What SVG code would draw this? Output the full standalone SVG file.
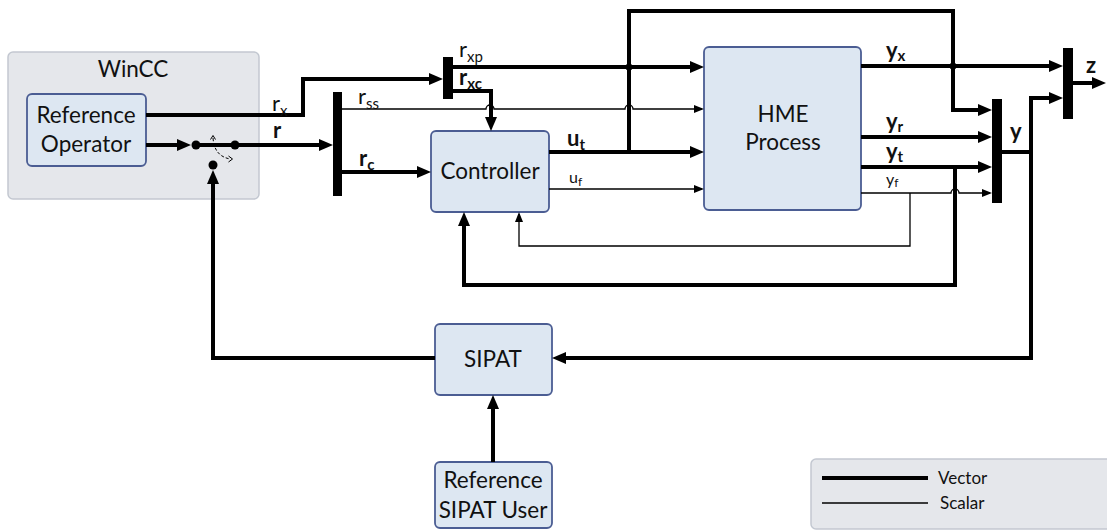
<svg xmlns="http://www.w3.org/2000/svg" width="1107" height="531" viewBox="0 0 1107 531">
  <style>
    .frame { fill: #e5e7eb; stroke: #c3c8d1; stroke-width: 1.5; }
    .block { fill: #dde7f2; stroke: #4b5d93; stroke-width: 1.8; }
    .bar { fill: #000; }
    .vec { fill: none; stroke: #000; stroke-width: 4; }
    .sca { fill: none; stroke: #000; stroke-width: 1.3; }
    .txt { font-family: Lato, "Liberation Sans", sans-serif; fill: #111; }
    .box { font-size: 22.5px; text-anchor: middle; }
    .lbl { font-size: 22px; }
    .sub { font-size: 15px; }
    .sm { font-size: 16px; }
    .b { font-weight: bold; }
    .dot { fill: #000; }
  </style>
  <defs>
    <marker id="av" markerUnits="userSpaceOnUse" viewBox="0 0 14 12" markerWidth="14" markerHeight="12" refX="9" refY="6" orient="auto">
      <path d="M0,0 L14,6 L0,12 z" fill="#000"/>
    </marker>
    <marker id="as" markerUnits="userSpaceOnUse" viewBox="0 0 10 8" markerWidth="10" markerHeight="8" refX="8" refY="4" orient="auto">
      <path d="M0,0 L10,4 L0,8 z" fill="#000"/>
    </marker>
  </defs>

  <!-- outer frames -->
  <g id="wincc">
    <rect class="frame" x="8" y="52" width="251" height="147" rx="5"/>
    <text class="txt box" x="133" y="77">WinCC</text>
  </g>
  <g id="legend">
    <rect class="frame" x="811" y="459" width="310" height="70" rx="5"/>
    <line class="vec" x1="822" y1="478" x2="928" y2="478"/>
    <line class="sca" x1="822" y1="503" x2="928" y2="503"/>
    <text class="txt" x="938" y="484" font-size="17">Vector</text>
    <text class="txt" x="940" y="509" font-size="17">Scalar</text>
  </g>

  <!-- blocks -->
  <g id="reference-operator">
    <rect class="block" x="27" y="94" width="119" height="72" rx="5"/>
    <text class="txt box" x="86" y="123">Reference</text>
    <text class="txt box" x="86" y="152">Operator</text>
  </g>
  <g id="controller">
    <rect class="block" x="431" y="131" width="118" height="81" rx="5"/>
    <text class="txt box" x="490" y="179">Controller</text>
  </g>
  <g id="hme-process">
    <rect class="block" x="704" y="47" width="157" height="163" rx="5"/>
    <text class="txt box" x="783" y="122">HME</text>
    <text class="txt box" x="783" y="150">Process</text>
  </g>
  <g id="sipat">
    <rect class="block" x="435" y="324" width="117" height="71" rx="5"/>
    <text class="txt box" x="493" y="367">SIPAT</text>
  </g>
  <g id="reference-sipat-user">
    <rect class="block" x="435" y="462" width="117" height="66" rx="5"/>
    <text class="txt box" x="493" y="488">Reference</text>
    <text class="txt box" x="493" y="518">SIPAT User</text>
  </g>

  <!-- mux / demux bars -->
  <g id="mux-r">
    <rect class="bar" x="333" y="92" width="9" height="104"/>
  </g>
  <g id="mux-rx">
    <rect class="bar" x="443" y="57" width="10" height="42"/>
  </g>
  <g id="mux-y">
    <rect class="bar" x="992" y="99" width="10" height="104"/>
  </g>
  <g id="mux-z">
    <rect class="bar" x="1063" y="48" width="10" height="71"/>
  </g>

  <!-- reference switch -->
  <g id="switch">
    <circle class="dot" cx="196" cy="145" r="4.5"/>
    <circle class="dot" cx="235" cy="145" r="4.5"/>
    <circle class="dot" cx="213" cy="165" r="4.5"/>
    <path d="M213,138 C214,151 220,157 230,159" fill="none" stroke="#000" stroke-width="1" stroke-dasharray="3,2"/>
    <path d="M210.5,139.5 L213,135.5 L215.5,139.5" fill="none" stroke="#000" stroke-width="1"/>
    <path d="M228.5,156 L232.5,159 L228.5,162" fill="none" stroke="#000" stroke-width="1"/>
  </g>

  <!-- connectors -->
  <g id="connectors">
    <!-- vector signals -->
    <path class="vec" d="M146,115 H303 V79 H438" marker-end="url(#av)"/>
    <path class="vec" d="M146,145 H186" marker-end="url(#av)"/>
    <path class="vec" d="M196,145 H235"/>
    <path class="vec" d="M235,145 H328" marker-end="url(#av)"/>
    <path class="vec" d="M342,172 H426" marker-end="url(#av)"/>
    <path class="vec" d="M453,67 H699" marker-end="url(#av)"/>
    <path class="vec" d="M453,91 H491 V126" marker-end="url(#av)"/>
    <path class="vec" d="M549,152 H699" marker-end="url(#av)"/>
    <path class="vec" d="M629,152 V11 H953 V110 H987" marker-end="url(#av)"/>
    <path class="vec" d="M861,66 H1058" marker-end="url(#av)"/>
    <path class="vec" d="M861,137 H987" marker-end="url(#av)"/>
    <path class="vec" d="M861,167 H987" marker-end="url(#av)"/>
    <path class="vec" d="M955,167 V285 H464 V217" marker-end="url(#av)"/>
    <path class="vec" d="M1002,152 H1031 V98 H1058" marker-end="url(#av)"/>
    <path class="vec" d="M1031,152 V358 H557" marker-end="url(#av)"/>
    <path class="vec" d="M1073,83 H1101" marker-end="url(#av)"/>
    <path class="vec" d="M435,358 H213 V175" marker-end="url(#av)"/>
    <path class="vec" d="M493,462 V400" marker-end="url(#av)"/>
    <!-- scalar signals -->
    <path class="sca" d="M342,109 H486 a4,4 0 0 1 8,0 H625 a4,4 0 0 1 8,0 H702" marker-end="url(#as)"/>
    <path class="sca" d="M549,189 H702" marker-end="url(#as)"/>
    <path class="sca" d="M861,193 H951 a4,4 0 0 1 8,0 H990" marker-end="url(#as)"/>
    <path class="sca" d="M910,193 V246 H519 V214" marker-end="url(#as)"/>
    <!-- junctions -->
    <circle class="dot" cx="629" cy="67" r="3.5"/>
    <circle class="dot" cx="953" cy="66" r="3.5"/>
  </g>

  <!-- signal labels -->
  <g id="labels">
    <text class="txt lbl" x="272" y="111">r<tspan class="sub" dy="5">x</tspan></text>
    <text class="txt lbl b" x="273" y="138">r</text>
    <text class="txt lbl" x="358" y="104">r<tspan class="sub" dy="5">ss</tspan></text>
    <text class="txt lbl b" x="359" y="166">r<tspan class="sub" dy="4">c</tspan></text>
    <text class="txt lbl" x="459" y="57">r<tspan class="sub" dy="5">xp</tspan></text>
    <text class="txt lbl b" x="459" y="85">r<tspan class="sub" dy="4">xc</tspan></text>
    <text class="txt lbl b" x="567" y="146">u<tspan class="sub" dy="4">t</tspan></text>
    <text class="txt sm" x="569" y="183">u<tspan font-size="12" dy="3">f</tspan></text>
    <text class="txt lbl b" x="886" y="58">y<tspan class="sub" dy="3">x</tspan></text>
    <text class="txt lbl b" x="886" y="129">y<tspan class="sub" dy="3">r</tspan></text>
    <text class="txt lbl b" x="886" y="159">y<tspan class="sub" dy="3">t</tspan></text>
    <text class="txt sm" x="886" y="185">y<tspan font-size="12" dy="2">f</tspan></text>
    <text class="txt lbl b" x="1010" y="139">y</text>
    <text class="txt lbl b" x="1086" y="73">z</text>
  </g>
</svg>
